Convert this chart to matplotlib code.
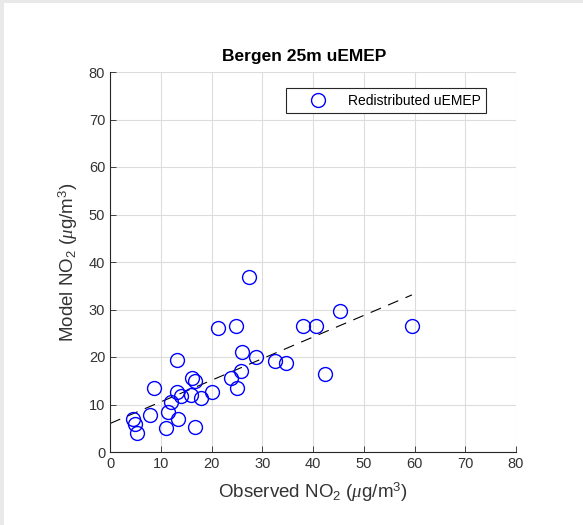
import matplotlib
matplotlib.use('Agg')
import matplotlib.pyplot as plt
from matplotlib.patches import Rectangle

plt.rcParams['font.family'] = ['Liberation Sans', 'DejaVu Sans']
plt.rcParams['mathtext.fontset'] = 'custom'
plt.rcParams['mathtext.rm'] = 'Liberation Sans'
plt.rcParams['mathtext.it'] = 'Liberation Serif:italic'

# data ~~~~~~~~~~~~~~~~~~~~~~~~~~~~~~~~~~~~~~~~~~~~~~~~~~~~~~~~~~~~~~
observed = [27.4, 21.2, 24.8, 38.1, 40.6, 45.3, 59.5, 42.4, 26.1, 28.8,
            32.6, 34.6, 13.3, 25.8, 23.8, 25.1, 16.1, 16.7, 8.6, 20.1,
            13.3, 13.9, 16.0, 17.9, 12.0, 11.5, 7.9, 13.4, 4.6, 4.9,
            5.3, 11.0, 16.7]
model = [36.8, 26.1, 26.6, 26.6, 26.6, 29.7, 26.6, 16.4, 21.1, 19.9,
         19.2, 18.8, 19.3, 17.1, 15.5, 13.4, 15.6, 15.0, 13.5, 12.6,
         12.6, 11.8, 12.1, 11.4, 10.6, 8.5, 7.8, 7.0, 6.9, 5.9,
         4.1, 5.0, 5.3]
fit_intercept = 6.0
fit_slope = 0.455
ticks = [0, 10, 20, 30, 40, 50, 60, 70, 80]

fig = plt.figure(figsize=(5.83, 5.25), dpi=100, facecolor='#e9e9e9')
fig.patches.append(Rectangle((4/583., 0), 1, 1 - 3/525., transform=fig.transFigure,
                             facecolor='white', edgecolor='none', zorder=-10))
ax = fig.add_axes([110/583., 73/525., 406/583., 380/525.])

ax.plot(observed, model, 'o', mfc='none', mec=(0, 0, 1), ms=10, mew=1.0,
        label='Redistributed uEMEP', zorder=3)
xl = [0, max(observed)]
ax.plot(xl, [fit_intercept + fit_slope*v for v in xl], '--', color='k',
        lw=0.8, dashes=(10, 7), zorder=2)

ax.set_xlim(0, 80)
ax.set_ylim(0, 80)
ax.set_xticks(ticks)
ax.set_yticks(ticks)
ax.grid(True, color='#dcdcdc', lw=0.8)
ax.set_axisbelow(True)
for s in ['top', 'right']:
    ax.spines[s].set_visible(False)
for s in ['left', 'bottom']:
    ax.spines[s].set_color('#262626')
    ax.spines[s].set_linewidth(0.8)
ax.tick_params(direction='in', length=4, width=0.6, colors='#262626',
               labelcolor='#333333', labelsize=10.5)

ax.set_xlabel(r'Observed NO$_2$ ($\mu$g/m$^3$)', fontsize=13.5, color='#333333',
              labelpad=7)
ax.set_ylabel(r'Model NO$_2$ ($\mu$g/m$^3$)', fontsize=13.5, color='#333333',
              labelpad=6)
ax.set_title('Bergen 25m uEMEP', fontsize=12.5, fontweight='bold', pad=8,
             x=0.479)

leg = ax.legend(loc='upper right', bbox_to_anchor=(0.926, 0.958), fontsize=10,
                fancybox=False, framealpha=1, edgecolor='#262626',
                handlelength=3.8, handletextpad=0.2, borderpad=0.4,
                borderaxespad=0)
leg.get_frame().set_linewidth(0.8)

fig.savefig('out.png', dpi=100, facecolor=fig.get_facecolor())
